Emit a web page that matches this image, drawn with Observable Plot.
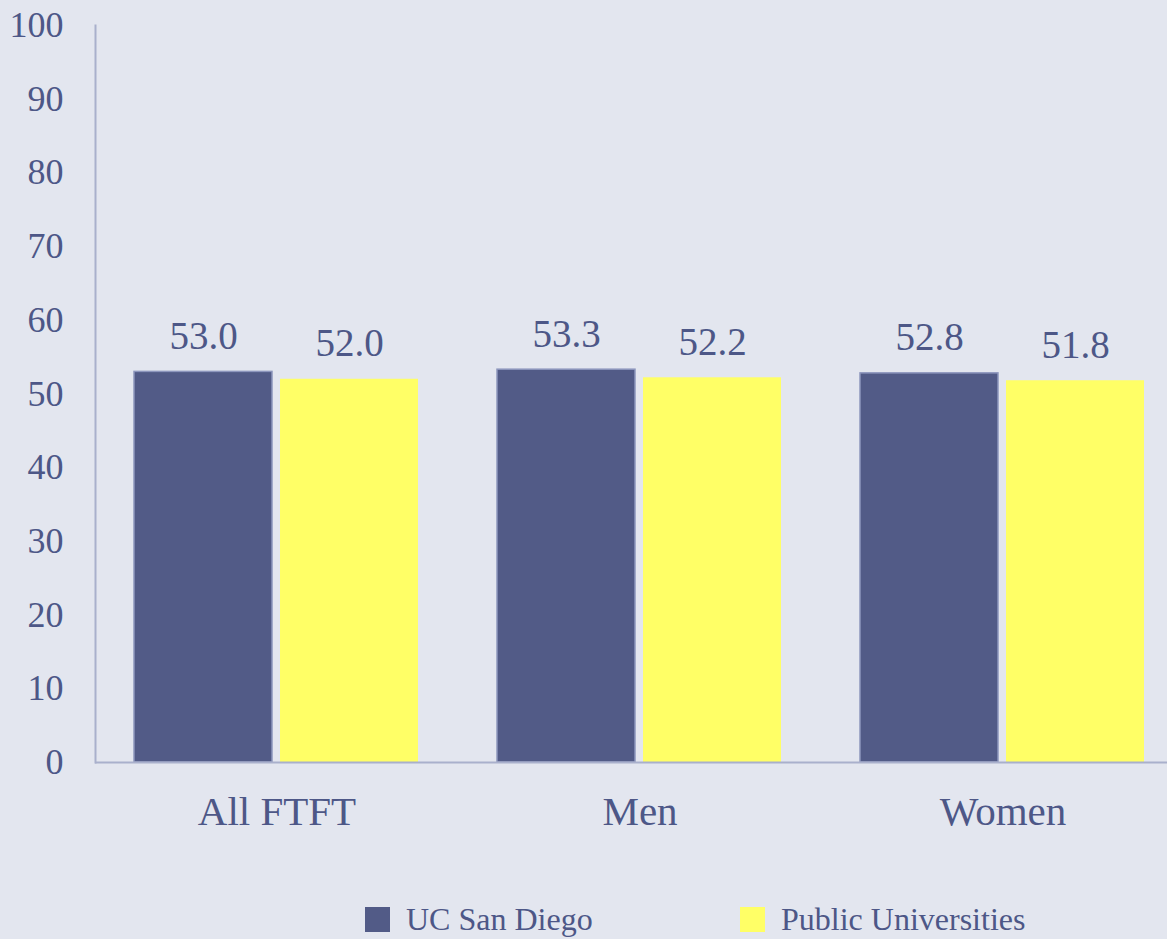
<!DOCTYPE html>
<html>
<head>
<meta charset="utf-8">
<script src="https://cdn.jsdelivr.net/npm/d3@7"></script>
<script src="https://cdn.jsdelivr.net/npm/@observablehq/plot@0.6"></script>
<style>
  html, body { margin: 0; padding: 0; background: #e3e6ef; overflow: hidden; }
  #wrap { position: relative; width: 1167px; height: 939px; overflow: hidden; background: #e3e6ef; }
  #chart svg { max-width: none !important; height: 870px !important; }
  #chart svg, #chart svg text, #chart svg g { font-family: "Liberation Serif", serif !important; }
  #legend { position: absolute; left: 365px; top: 903px; display: flex; font-family: "Liberation Serif", serif; font-size: 32px; line-height: 32px; color: #4d5787; }
  .item { display: flex; align-items: center; }
  .sw { width: 25px; height: 25px; margin-right: 16px; }
</style>
</head>
<body>
<div id="wrap"><div id="chart"></div><div id="legend"></div></div>
<script>
const categories = ["All FTFT", "Men", "Women"];
const seriesNames = ["UC San Diego", "Public Universities"];
const ucsdValues = [53.0, 53.3, 52.8];
const publicValues = [52.0, 52.2, 51.8];
const yTicks = [0, 10, 20, 30, 40, 50, 60, 70, 80, 90, 100];
const seriesColors = ["#525b87", "#ffff66"];

const textColor = "#4d5787";
const axisColor = "#a9b0cc";
const serif = "Liberation Serif";

const data = [];
categories.forEach((c, i) => {
  data.push({category: c, series: seriesNames[0], value: ucsdValues[i]});
  data.push({category: c, series: seriesNames[1], value: publicValues[i]});
});
const fmt = d3.format(".1f");

const chart = Plot.plot({
  width: 1184,
  height: 870,
  marginLeft: 95,
  marginRight: 0,
  marginTop: 25,
  marginBottom: 108,
  style: {background: "#e3e6ef", color: textColor, maxWidth: "none", fontFamily: serif},
  fx: {domain: categories, paddingInner: 0, paddingOuter: 0},
  x: {domain: seriesNames, paddingInner: 0.0546, paddingOuter: 0.266, axis: null},
  y: {domain: [0, 100]},
  color: {domain: seriesNames, range: seriesColors},
  marks: [
    Plot.barY(data, {
      fx: "category", x: "series", y: "value", fill: "series",
      stroke: d => d.series === seriesNames[0] ? "#8d96bd" : "none",
      strokeWidth: 1.5
    }),
    Plot.ruleY([0], {stroke: axisColor, strokeWidth: 2}),
    Plot.frame({anchor: "left", facetAnchor: "left", stroke: axisColor, strokeWidth: 2}),
    Plot.text(data, {
      fx: "category", x: "series", y: "value", text: d => fmt(d.value),
      dy: -23, lineAnchor: "bottom", fontSize: 39, fontFamily: serif, fill: textColor
    }),
    Plot.axisY({ticks: yTicks, tickSize: 0, tickPadding: 32, fontSize: 36, fontFamily: serif, fill: textColor, label: null}),
    Plot.axisFx({anchor: "bottom", tickSize: 0, tickPadding: 33, fontSize: 41, fontFamily: serif, fill: textColor, label: null})
  ]
});
document.getElementById("chart").appendChild(chart);

const legend = document.getElementById("legend");
seriesNames.forEach((s, i) => {
  const item = document.createElement("div");
  item.className = "item";
  if (i === 0) item.style.width = "375px";
  const sw = document.createElement("div");
  sw.className = "sw";
  sw.style.background = seriesColors[i];
  const t = document.createElement("span");
  t.textContent = s;
  item.appendChild(sw);
  item.appendChild(t);
  legend.appendChild(item);
});
</script>
</body>
</html>
